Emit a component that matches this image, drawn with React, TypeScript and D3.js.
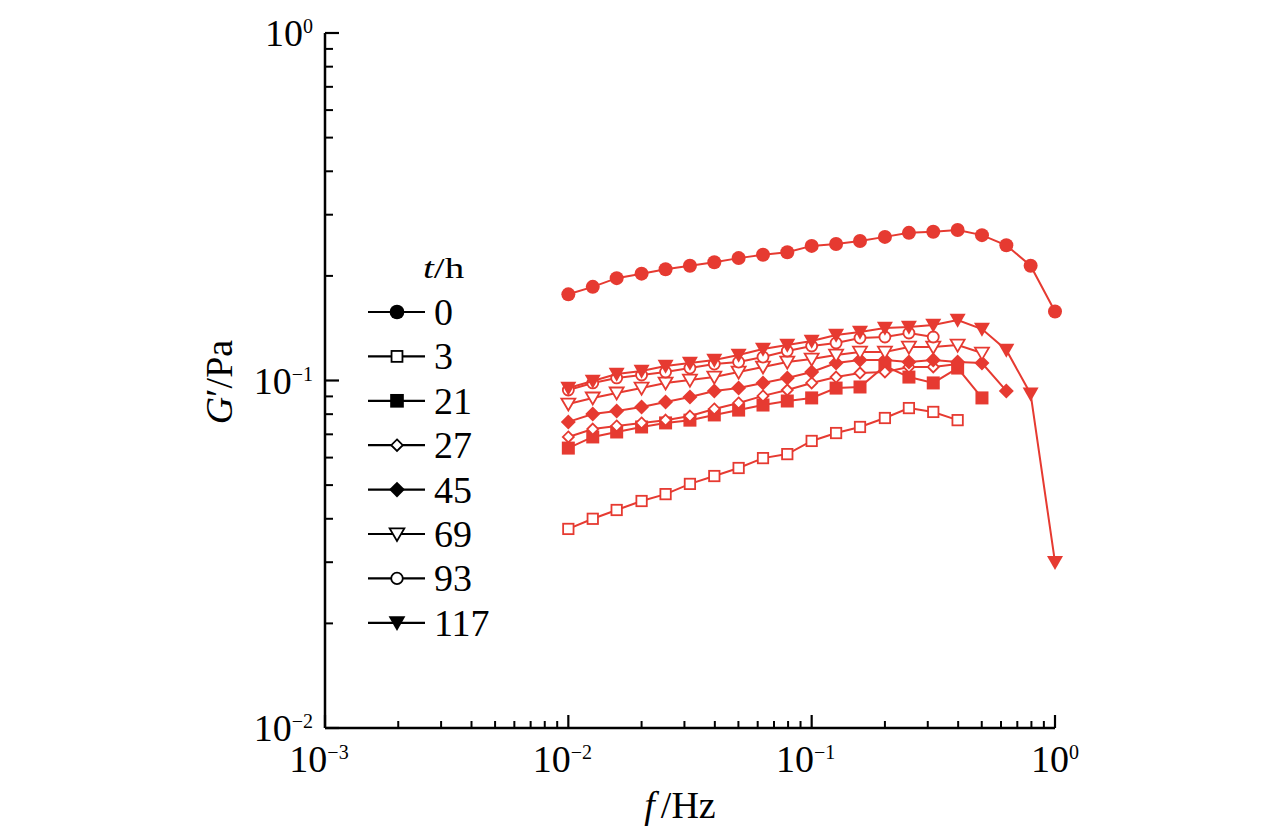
import React from "react";
import * as d3 from "d3";

// Frequencies f (Hz)
const freq = [0.01, 0.0126, 0.0158, 0.02, 0.0251, 0.0316, 0.0398, 0.0501, 0.0631, 0.0794, 0.1, 0.126, 0.158, 0.2, 0.251, 0.316, 0.398, 0.501, 0.631, 0.794, 1.0];

// G' (Pa) for each ageing time t/h
const g0 = [0.177, 0.186, 0.197, 0.203, 0.209, 0.214, 0.219, 0.225, 0.23, 0.234, 0.244, 0.247, 0.252, 0.259, 0.266, 0.268, 0.271, 0.262, 0.245, 0.214, 0.158];
const g3 = [0.0374, 0.04, 0.0424, 0.045, 0.0471, 0.0504, 0.0531, 0.056, 0.0598, 0.0614, 0.067, 0.0706, 0.0735, 0.078, 0.0833, 0.0812, 0.0769];
const g21 = [0.0639, 0.0688, 0.0711, 0.0735, 0.0755, 0.0769, 0.0796, 0.0822, 0.085, 0.0873, 0.0891, 0.0951, 0.0958, 0.1101, 0.1023, 0.0984, 0.1086, 0.0891];
const g27 = [0.0688, 0.0725, 0.074, 0.0755, 0.0769, 0.079, 0.0828, 0.0862, 0.0903, 0.0939, 0.0984, 0.1023, 0.1051, 0.1058, 0.1094, 0.1094, 0.1115];
const g45 = [0.076, 0.0801, 0.0817, 0.0839, 0.0867, 0.0897, 0.0933, 0.0951, 0.0984, 0.1017, 0.1058, 0.1123, 0.1146, 0.1146, 0.113, 0.1146, 0.113, 0.1123, 0.0933];
const g69 = [0.0856, 0.0891, 0.0921, 0.0951, 0.0984, 0.1003, 0.1023, 0.1058, 0.1094, 0.113, 0.1153, 0.1184, 0.1208, 0.1208, 0.1248, 0.1248, 0.1265, 0.12];
const g93 = [0.0939, 0.0984, 0.1017, 0.1037, 0.1058, 0.1086, 0.1115, 0.113, 0.1168, 0.1216, 0.1257, 0.1282, 0.1325, 0.1334, 0.137, 0.1334];
const g117 = [0.0951, 0.0997, 0.1044, 0.1065, 0.1101, 0.1123, 0.1146, 0.1184, 0.1232, 0.1265, 0.1299, 0.1351, 0.1379, 0.1416, 0.1425, 0.1445, 0.1493, 0.1406, 0.1224, 0.0915, 0.03];

const seriesLabels = ["0", "3", "21", "27", "45", "69", "93", "117"];
const seriesShapes = ["circleFilled", "squareOpen", "squareFilled", "diamondOpen", "diamondFilled", "triOpen", "circleOpen", "triFilled"];
const seriesValues = [g0, g3, g21, g27, g45, g69, g93, g117];

const xTickExps = [-3, -2, -1, 0];
const yTickExps = [-2, -1, 0];
const minorMults = [2, 3, 4, 5, 6, 7, 8, 9];

const RED = "#e63a31";
const FONT = "'Liberation Serif', 'Times New Roman', serif";

function Marker({ shape, cx, cy, color, s = 1 }: { shape: string; cx: number; cy: number; color: string; s?: number }) {
  const sw = 1.8;
  switch (shape) {
    case "circleFilled":
      return <circle cx={cx} cy={cy} r={7 * s} fill={color} />;
    case "circleOpen":
      return <circle cx={cx} cy={cy} r={5.5 * s} fill="white" stroke={color} strokeWidth={sw} />;
    case "squareOpen": {
      const h = 5.2 * s;
      return <rect x={cx - h} y={cy - h} width={2 * h} height={2 * h} fill="white" stroke={color} strokeWidth={sw} />;
    }
    case "squareFilled": {
      const h = 6.5 * s;
      return <rect x={cx - h} y={cy - h} width={2 * h} height={2 * h} fill={color} />;
    }
    case "diamondOpen": {
      const h = 5.5 * s;
      return <polygon points={`${cx},${cy - h} ${cx + h},${cy} ${cx},${cy + h} ${cx - h},${cy}`} fill="white" stroke={color} strokeWidth={sw} />;
    }
    case "diamondFilled": {
      const h = 7.5 * s;
      return <polygon points={`${cx},${cy - h} ${cx + h},${cy} ${cx},${cy + h} ${cx - h},${cy}`} fill={color} />;
    }
    case "triOpen": {
      const w = 7 * s, h = 12 * s;
      return <polygon points={`${cx - w},${cy - h * 0.45} ${cx + w},${cy - h * 0.45} ${cx},${cy + h * 0.55}`} fill="white" stroke={color} strokeWidth={sw} />;
    }
    case "triFilled": {
      const w = 8 * s, h = 14 * s;
      return <polygon points={`${cx - w},${cy - h * 0.45} ${cx + w},${cy - h * 0.45} ${cx},${cy + h * 0.55}`} fill={color} />;
    }
  }
  return null;
}

export default function App() {
  const x = d3.scaleLog().domain([1e-3, 1]).range([325, 1055]);
  const y = d3.scaleLog().domain([1e-2, 1]).range([728, 33]);
  const line = d3
    .line<[number, number]>()
    .x((d) => x(d[0]))
    .y((d) => y(d[1]));

  const xMinor: number[] = [];
  for (let e = -3; e < 0; e++) minorMults.forEach((m) => xMinor.push(m * Math.pow(10, e)));
  const yMinor: number[] = [];
  for (let e = -2; e < 0; e++) minorMults.forEach((m) => yMinor.push(m * Math.pow(10, e)));

  const x0 = x(1e-3);
  const yB = y(1e-2);

  const legendX = 368;
  const legendY0 = 312;
  const legendDy = 44.4;
  const FS = 38;
  const SUP = 20;

  return (
    <svg width={1276} height={835} style={{ position: "absolute", left: 0, top: 0, background: "white" }} fontFamily={FONT}>
      <rect x={0} y={0} width={1276} height={835} fill="white" />
      {/* Axes */}
      <line x1={x0} y1={y(1)} x2={x0} y2={yB} stroke="black" strokeWidth={2.5} />
      <line x1={x0} y1={yB} x2={x(1)} y2={yB} stroke="black" strokeWidth={2.5} />
      {yTickExps.map((e) => (
        <line key={"ym" + e} x1={x0} x2={x0 + 14} y1={y(Math.pow(10, e))} y2={y(Math.pow(10, e))} stroke="black" strokeWidth={2.2} />
      ))}
      {yMinor.map((v, i) => (
        <line key={"yn" + i} x1={x0} x2={x0 + 8} y1={y(v)} y2={y(v)} stroke="black" strokeWidth={2} />
      ))}
      {xTickExps.map((e) => (
        <line key={"xm" + e} x1={x(Math.pow(10, e))} x2={x(Math.pow(10, e))} y1={yB} y2={yB - 13} stroke="black" strokeWidth={2.2} />
      ))}
      {xMinor.map((v, i) => (
        <line key={"xn" + i} x1={x(v)} x2={x(v)} y1={yB} y2={yB - 7} stroke="black" strokeWidth={2} />
      ))}
      {/* Y tick labels */}
      {yTickExps.map((e) => (
        <text key={"yl" + e} x={313} y={y(Math.pow(10, e)) + 13} fontSize={FS} textAnchor="end" fill="black">
          10
          <tspan fontSize={SUP} dy={-13}>{e < 0 ? "\u2212" + Math.abs(e) : String(e)}</tspan>
        </text>
      ))}
      {/* X tick labels */}
      {xTickExps.map((e) => (
        <text key={"xl" + e} x={x(Math.pow(10, e)) + (e < 0 ? -6 : 0)} y={772} fontSize={FS} textAnchor="middle" fill="black">
          10
          <tspan fontSize={SUP} dy={-13}>{e < 0 ? "\u2212" + Math.abs(e) : String(e)}</tspan>
        </text>
      ))}
      {/* Axis titles */}
      <text x={680} y={818} fontSize={FS} textAnchor="middle" fill="black">
        <tspan fontStyle="italic">f</tspan>
        <tspan dx={6}>/Hz</tspan>
      </text>
      <text transform="translate(232,382) rotate(-90)" fontSize={FS} textAnchor="middle" fill="black">
        <tspan fontStyle="italic">G</tspan>
        <tspan>{"\u2032/Pa"}</tspan>
      </text>
      {/* Data */}
      {seriesValues.map((vals, si) => {
        const pts: [number, number][] = vals.map((v, i) => [freq[i], v]);
        return (
          <g key={"s" + si}>
            <path d={line(pts) || ""} fill="none" stroke={RED} strokeWidth={2} />
            {pts.map((p, i) => (
              <Marker key={i} shape={seriesShapes[si]} cx={x(p[0])} cy={y(p[1])} color={RED} />
            ))}
          </g>
        );
      })}
      {/* Legend */}
      <text transform="translate(423,278) scale(1.3,1)" fontSize={30} fill="black">
        <tspan fontStyle="italic">t</tspan>
        <tspan>/h</tspan>
      </text>
      {seriesLabels.map((lab, i) => {
        const ly = legendY0 + i * legendDy;
        return (
          <g key={"lg" + i}>
            <line x1={legendX} x2={legendX + 57} y1={ly} y2={ly} stroke="black" strokeWidth={2.2} />
            <Marker shape={seriesShapes[i]} cx={legendX + 29} cy={ly} color="black" s={1.05} />
            <text x={legendX + 66} y={ly + 13} fontSize={FS} fill="black">
              {lab}
            </text>
          </g>
        );
      })}
    </svg>
  );
}
